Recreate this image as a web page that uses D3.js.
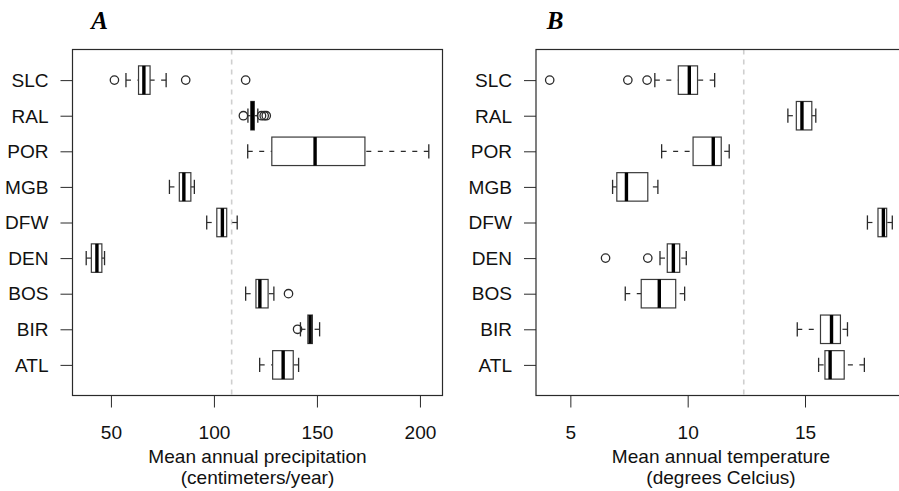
<!DOCTYPE html>
<html>
<head>
<meta charset="utf-8">
<script src="https://cdn.jsdelivr.net/npm/d3@7"></script>
<style>
  body { margin: 0; background: #fff; }
  svg { display: block; }
</style>
</head>
<body>
<svg id="chart" width="899" height="491"></svg>
<script>
// Cities, listed bottom to top
const cities = ["ATL", "BIR", "BOS", "DEN", "DFW", "MGB", "POR", "RAL", "SLC"];

// Five-number summaries: [lower whisker, Q1, median, Q3, upper whisker]
const precipStats = [
  [122.2, 128.5, 133.6, 138.5, 141.1],  // ATL
  [142.0, 145.6, 146.7, 147.8, 151.3],  // BIR
  [115.4, 120.4, 122.3, 126.3, 129.1],  // BOS
  [38.0, 40.5, 43.2, 45.6, 46.9],       // DEN
  [96.5, 101.4, 104.1, 106.2, 111.3],   // DFW
  [78.4, 83.2, 85.4, 88.8, 90.5],       // MGB
  [116.4, 128.1, 149.1, 173.3, 204.3],  // POR
  [116.5, 117.9, 118.7, 119.6, 121.3],  // RAL
  [57.3, 63.4, 66.0, 69.0, 76.8]        // SLC
];
const precipOutliers = [
  [], [140.6], [136.2], [], [], [], [],
  [114.3, 123.1, 124.4, 125.4],
  [51.7, 86.3, 115.4]
];
const precipMean = 108.6;
const precipTicks = [50, 100, 150, 200];

const tempStats = [
  [15.58, 15.85, 16.07, 16.67, 17.53],  // ATL
  [14.67, 15.66, 16.13, 16.51, 16.81],  // BIR
  [7.34, 8.02, 8.79, 9.49, 9.87],       // BOS
  [8.82, 9.13, 9.39, 9.66, 9.94],       // DEN
  [17.66, 18.11, 18.34, 18.48, 18.72],  // DFW
  [6.80, 6.98, 7.39, 8.30, 8.73],       // MGB
  [8.89, 10.23, 11.09, 11.43, 11.77],   // POR
  [14.27, 14.63, 14.87, 15.29, 15.46],  // RAL
  [8.60, 9.60, 10.07, 10.42, 11.15]     // SLC
];
const tempOutliers = [
  [], [], [], [6.50, 8.30], [], [], [], [],
  [4.12, 7.45, 8.27]
];
const tempMean = 12.39;
const tempTicks = [5, 10, 15];

// Layout
const plotTop = 49.5, plotBottom = 395.5, plotW = 370;
const sans = "'Liberation Sans', Arial, Helvetica, sans-serif";
const fs = 17.5, stretch = 1.09;
const ink = "#2a2a2a";

const svg = d3.select("#chart");
svg.append("rect").attr("width", 899).attr("height", 491).attr("fill", "#fff");

function drawPanel(opt) {
  const g = svg.append("g");
  const allVals = opt.stats.flat().concat(opt.outliers.flat());
  const [lo, hi] = d3.extent(allVals);
  const pad = (hi - lo) * 0.04;
  const x = d3.scaleLinear().domain([lo - pad, hi + pad]).range([opt.left, opt.left + plotW]);
  // positions 1..n with half-unit margins, plus 4% padding
  const n = cities.length;
  const ySpan = n, yPad = ySpan * 0.04;
  const y = d3.scaleLinear()
    .domain([0.5 - yPad, n + 0.5 + yPad])
    .range([plotBottom, plotTop]);

  // bottom axis
  const xAxis = g.append("g")
    .attr("transform", `translate(0,${plotBottom})`)
    .call(d3.axisBottom(x).tickValues(opt.ticks).tickSize(12).tickSizeOuter(0).tickPadding(19));
  xAxis.select(".domain").remove();
  xAxis.selectAll("line").attr("stroke", ink);
  xAxis.selectAll("text")
    .attr("font-family", sans).attr("font-size", fs).attr("fill", "#111")
    .attr("transform", `scale(${stretch},1)`);

  // left axis
  const yAxis = g.append("g")
    .attr("transform", `translate(${opt.left},0)`)
    .call(d3.axisLeft(y).tickValues(d3.range(1, n + 1))
      .tickFormat(d => cities[d - 1]).tickSize(12).tickSizeOuter(0).tickPadding(12));
  yAxis.select(".domain").remove();
  yAxis.selectAll("line").attr("stroke", ink);
  yAxis.selectAll("text")
    .attr("font-family", sans).attr("font-size", fs).attr("fill", "#111")
    .attr("x", -24 / stretch).attr("dy", "0.36em")
    .attr("transform", `scale(${stretch},1)`);

  // mean reference line
  g.append("line")
    .attr("x1", x(opt.mean)).attr("x2", x(opt.mean))
    .attr("y1", plotTop).attr("y2", plotBottom)
    .attr("stroke", "#cfcfcf").attr("stroke-width", 1.6)
    .attr("stroke-dasharray", "5,5");

  const rows = opt.stats.map((s, i) => ({ s, pos: i + 1, out: opt.outliers[i] }));
  const boxHalf = 0.4, stapleHalf = 0.2;
  const bg = g.append("g").selectAll("g").data(rows).join("g");

  // whiskers (dashed), from whisker end toward the box
  bg.append("line")
    .attr("x1", d => x(d.s[0])).attr("x2", d => x(d.s[1]))
    .attr("y1", d => y(d.pos)).attr("y2", d => y(d.pos))
    .attr("stroke", ink).attr("stroke-width", 1.2).attr("stroke-dasharray", "5,6.5");
  bg.append("line")
    .attr("x1", d => x(d.s[4])).attr("x2", d => x(d.s[3]))
    .attr("y1", d => y(d.pos)).attr("y2", d => y(d.pos))
    .attr("stroke", ink).attr("stroke-width", 1.2).attr("stroke-dasharray", "5,6.5");

  // staples
  [0, 4].forEach(k => {
    bg.append("line")
      .attr("x1", d => x(d.s[k])).attr("x2", d => x(d.s[k]))
      .attr("y1", d => y(d.pos - stapleHalf)).attr("y2", d => y(d.pos + stapleHalf))
      .attr("stroke", ink).attr("stroke-width", 1.3);
  });

  // boxes
  bg.append("rect")
    .attr("x", d => x(d.s[1])).attr("width", d => x(d.s[3]) - x(d.s[1]))
    .attr("y", d => y(d.pos + boxHalf)).attr("height", d => y(d.pos - boxHalf) - y(d.pos + boxHalf))
    .attr("fill", "none").attr("stroke", "#3a3a3a").attr("stroke-width", 1.2);

  // medians
  bg.append("line")
    .attr("x1", d => x(d.s[2])).attr("x2", d => x(d.s[2]))
    .attr("y1", d => y(d.pos - boxHalf)).attr("y2", d => y(d.pos + boxHalf))
    .attr("stroke", "#000").attr("stroke-width", 3.4);

  // outliers
  bg.selectAll("circle").data(d => d.out.map(v => ({ v, pos: d.pos }))).join("circle")
    .attr("cx", d => x(d.v)).attr("cy", d => y(d.pos)).attr("r", 4.2)
    .attr("fill", "none").attr("stroke", ink).attr("stroke-width", 1.3);

  // frame
  g.append("rect")
    .attr("x", opt.left).attr("y", plotTop)
    .attr("width", plotW).attr("height", plotBottom - plotTop)
    .attr("fill", "none").attr("stroke", ink).attr("stroke-width", 1.2);

  // axis title
  const cx = opt.left + plotW / 2;
  opt.xlab.forEach((line, i) => {
    g.append("text")
      .attr("transform", `translate(${cx},${463 + i * 21}) scale(${stretch},1)`)
      .attr("text-anchor", "middle")
      .attr("font-family", sans).attr("font-size", fs).attr("fill", "#111")
      .text(line);
  });

  // panel letter
  g.append("text")
    .attr("x", opt.letterX).attr("y", 28.5)
    .attr("text-anchor", "middle")
    .attr("font-family", "'Liberation Serif', 'DejaVu Serif', serif")
    .attr("font-weight", "bold").attr("font-style", "italic")
    .attr("font-size", 25).attr("fill", "#000")
    .text(opt.letter);
}

drawPanel({
  left: 72.5, stats: precipStats, outliers: precipOutliers, mean: precipMean,
  ticks: precipTicks, letter: "A", letterX: 99.5,
  xlab: ["Mean annual precipitation", "(centimeters/year)"]
});
drawPanel({
  left: 536, stats: tempStats, outliers: tempOutliers, mean: tempMean,
  ticks: tempTicks, letter: "B", letterX: 555,
  xlab: ["Mean annual temperature", "(degrees Celcius)"]
});
</script>
</body>
</html>
